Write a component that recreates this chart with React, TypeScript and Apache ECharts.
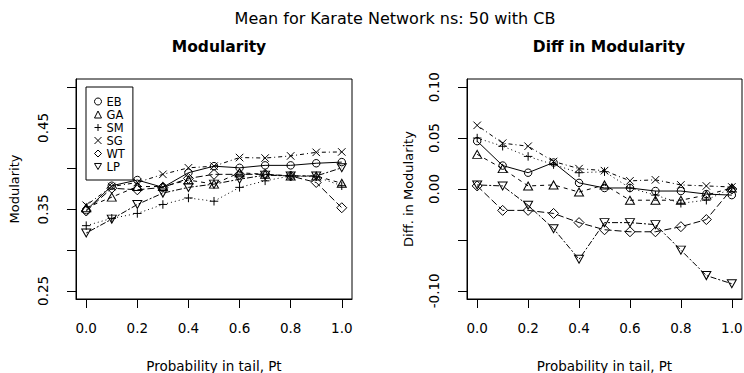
import React, { useEffect, useRef } from "react";
import * as echarts from "echarts";

const probs = [0, 0.1, 0.2, 0.3, 0.4, 0.5, 0.6, 0.7, 0.8, 0.9, 1.0];
const methods = ["EB", "GA", "SM", "SG", "WT", "LP"];

// Modularity (left panel)
const modEB = [0.349, 0.379, 0.386, 0.377, 0.395, 0.403, 0.401, 0.404, 0.404, 0.4066, 0.408];
const modGA = [0.352, 0.365, 0.378, 0.378, 0.386, 0.381, 0.395, 0.393, 0.391, 0.391, 0.382];
const modSM = [0.330, 0.339, 0.345, 0.356, 0.364, 0.360, 0.377, 0.385, 0.391, 0.390, 0.379];
const modSG = [0.355, 0.378, 0.383, 0.393, 0.401, 0.403, 0.4136, 0.413, 0.4156, 0.420, 0.4205];
const modWT = [0.348, 0.376, 0.374, 0.377, 0.388, 0.393, 0.393, 0.393, 0.391, 0.383, 0.352];
const modLP = [0.321, 0.338, 0.356, 0.370, 0.377, 0.381, 0.387, 0.392, 0.391, 0.391, 0.401];

// Diff in Modularity (right panel)
const diffEB = [0.047, 0.023, 0.016, 0.026, 0.006, 0.001, 0.001, -0.002, -0.002, -0.005, -0.006];
const diffGA = [0.034, 0.020, 0.003, 0.004, -0.003, 0.004, -0.011, -0.011, -0.011, -0.006, 0.001];
const diffSM = [0.050, 0.042, 0.032, 0.024, 0.016, 0.017, 0.001, -0.006, -0.014, -0.011, 0.001];
const diffSG = [0.0625, 0.045, 0.042, 0.027, 0.020, 0.018, 0.008, 0.009, 0.004, 0.003, 0.002];
const diffWT = [0.003, -0.021, -0.021, -0.024, -0.033, -0.040, -0.042, -0.042, -0.037, -0.030, 0.000];
const diffLP = [0.004, 0.003, -0.016, -0.039, -0.069, -0.033, -0.033, -0.035, -0.060, -0.085, -0.093];

const xTicks = [0, 0.2, 0.4, 0.6, 0.8, 1.0];
const modTicks = [0.25, 0.3, 0.35, 0.4, 0.45, 0.5];
const modLabels = [0.25, 0.35, 0.45];
const diffTicks = [-0.1, -0.05, 0, 0.05, 0.1];
const diffLabels = [-0.1, 0, 0.05, 0.1];

const mainTitle = "Mean for Karate Network ns: 50 with CB";
const leftTitle = "Modularity";
const rightTitle = "Diff in Modularity";
const xName = "Probability in tail, Pt";
const leftYName = "Modularity";
const rightYName = "Diff. in Modularity";

const FONT = "DejaVu Sans";

const symbols: Record<string, any> = {
  EB: "circle",
  GA: "triangle",
  SM: "path://M0,5L10,5M5,0L5,10",
  SG: "path://M0,0L10,10M10,0L0,10",
  WT: "diamond",
  LP: "path://M0,0L10,0L5,8.66Z",
};
const symbolSizes: Record<string, any> = {
  EB: 7.5,
  GA: [9, 8],
  SM: 8.5,
  SG: 7.5,
  WT: 10,
  LP: [9, 8],
};
const dashes: Record<string, any> = {
  EB: "solid",
  GA: [4, 4],
  SM: [1, 3],
  SG: [1, 3, 4, 3],
  WT: [7, 3],
  LP: [2, 2, 6, 2],
};

export default function App() {
  const ref = useRef<HTMLDivElement>(null);
  useEffect(() => {
    if (!ref.current) return;
    const chart = echarts.init(ref.current, undefined, { renderer: "svg" });
    const modData = [modEB, modGA, modSM, modSG, modWT, modLP];
    const diffData = [diffEB, diffGA, diffSM, diffSG, diffWT, diffLP];
    const mk = (vals: number[], name: string, idx: number) => ({
      type: "line",
      name,
      xAxisIndex: idx,
      yAxisIndex: idx,
      data: probs.map((p, i) => [p, vals[i]]),
      symbol: symbols[name],
      symbolSize: symbolSizes[name],
      showAllSymbol: true,
      lineStyle: { color: "#000", width: 1, type: dashes[name] },
      itemStyle: { color: "rgba(0,0,0,0)", borderColor: "#000", borderWidth: 1 },
      emphasis: { disabled: true },
      z: 3,
    });
    const series: any[] = [];
    methods.forEach((m, i) => series.push(mk(modData[i], m, 0)));
    methods.forEach((m, i) => series.push(mk(diffData[i], m, 1)));

    const xAxisBase = (gi: number) => ({
      type: "value",
      gridIndex: gi,
      min: -0.04,
      max: 1.04,
      axisLine: { show: true, onZero: false, lineStyle: { color: "#000", width: 1 } },
      axisTick: { show: true, inside: false, length: 9, customValues: xTicks, lineStyle: { color: "#000" } },
      axisLabel: {
        customValues: xTicks,
        formatter: (v: number) => v.toFixed(1),
        color: "#000",
        fontFamily: FONT,
        fontSize: 13.5,
        margin: 22,
      },
      splitLine: { show: false },
      name: xName,
      nameLocation: "middle",
      nameGap: 60,
      nameTextStyle: { color: "#000", fontFamily: FONT, fontSize: 13.5 },
    });
    const yAxisBase = (gi: number, min: number, max: number, ticks: number[], labels: number[], name: string, gap: number) => ({
      type: "value",
      gridIndex: gi,
      min,
      max,
      axisLine: { show: true, onZero: false, lineStyle: { color: "#000", width: 1 } },
      axisTick: { show: true, inside: false, length: 9, customValues: ticks, lineStyle: { color: "#000" } },
      axisLabel: {
        customValues: labels,
        formatter: (v: number) => v.toFixed(2),
        color: "#000",
        fontFamily: FONT,
        fontSize: 13.5,
        rotate: 90,
        margin: 26,
      },
      splitLine: { show: false },
      name,
      nameLocation: "middle",
      nameGap: gap,
      nameTextStyle: { color: "#000", fontFamily: FONT, fontSize: 13 },
    });

    chart.setOption({
      animation: false,
      backgroundColor: "#fff",
      title: [
        { text: mainTitle, left: 390, top: 5, textAlign: "center", textStyle: { fontFamily: FONT, fontSize: 16, fontWeight: "normal", color: "#000" } },
        { text: leftTitle, left: 214, top: 34, textAlign: "center", textStyle: { fontFamily: FONT, fontSize: 15.5, fontWeight: "bold", color: "#000" } },
        { text: rightTitle, left: 604, top: 34, textAlign: "center", textStyle: { fontFamily: FONT, fontSize: 15.5, fontWeight: "bold", color: "#000" } },
      ],
      grid: [
        { left: 76, top: 79, width: 276, height: 220, show: true, borderColor: "#000", borderWidth: 1, backgroundColor: "rgba(0,0,0,0)", containLabel: false, outerBoundsMode: "none" },
        { left: 467, top: 79, width: 275, height: 220, show: true, borderColor: "#000", borderWidth: 1, backgroundColor: "rgba(0,0,0,0)", containLabel: false, outerBoundsMode: "none" },
      ],
      xAxis: [xAxisBase(0), xAxisBase(1)],
      yAxis: [
        yAxisBase(0, 0.24, 0.51, modTicks, modLabels, leftYName, 55),
        yAxisBase(1, -0.108, 0.108, diffTicks, diffLabels, rightYName, 52),
      ],
      legend: {
        show: true,
        orient: "vertical",
        left: 86,
        top: 87,
        padding: [8, 8, 7, 8],
        itemWidth: 7,
        itemHeight: 7,
        itemGap: 0,
        itemTextGap: 5,
        borderColor: "#000",
        borderWidth: 1,
        backgroundColor: "#fff",
        selectedMode: false,
        textStyle: { fontFamily: FONT, fontSize: 11.5, color: "#000", lineHeight: 13 },
        data: methods.map((m) => ({
          name: m,
          icon: symbols[m],
          itemStyle: { color: "rgba(0,0,0,0)", borderColor: "#000", borderWidth: 1 },
        })),
      },
      series,
    });
    return () => chart.dispose();
  }, []);
  return <div ref={ref} style={{ position: "absolute", left: 0, top: 0, width: 744, height: 373 }} />;
}
